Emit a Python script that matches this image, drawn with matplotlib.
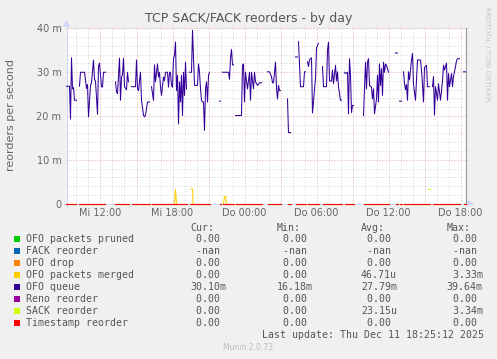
import numpy as np
import matplotlib
matplotlib.use("Agg")
import matplotlib.pyplot as plt
from matplotlib.patches import Rectangle, Polygon
from matplotlib.lines import Line2D
from matplotlib.transforms import Affine2D

W, H = 497, 359

# ---------------- data ----------------
# OFO queue, values in milli-reorders/s, time in minutes since Wed 00:00 (None = no data)
queue_minutes = [
    550, 565, 570, 575, 580, 585, 590, 600, None,
    615, 620, 630, 640, 650, 655, 660, 670, 675, 685, 690, 695, 705, 710, 715, 725, 730, 735, 745, None,
    795, 800, 805, 815, 820, 825, 830, 835, 840, 850, 855, 860, None,
    875, 895, 900, 905, 910, 920, 925, 935, 940, 945, 955, 965, None,
    975, 985, 990, 995, 1005, 1010, 1015, 1020, 1025, 1035, 1040, 1045, 1055, 1060, 1065, 1070,
    1075, 1080, 1085, 1090, 1095, 1100, 1105, 1110, 1115, 1120, 1125, 1130, 1135, 1140, 1145, 1150, None,
    1165, 1175, 1180, 1185, 1190, 1205, 1210, 1215, 1220, 1225, 1230, 1235, 1240, 1245, 1250, 1255, 1260, 1265, None,
    1315, 1320, None,
    1330, 1360, 1365, 1370, 1375, 1380, 1385, None,
    1395, 1425, 1430, 1435, 1440, 1445, 1455, 1465, 1470, 1475, 1485, 1490, 1495, 1505, 1515, 1525, None,
    1555, 1565, 1575, 1580, 1585, 1595, 1600, 1605, 1610, 1615, 1620, None,
    1655, 1660, 1670, None,
    1695, 1705, None,
    1710, 1720, 1735, 1740, 1745, None,
    1755, 1760, 1765, 1775, 1780, 1795, 1800, 1805, 1810, None,
    1830, 1835, 1850, 1855, 1860, 1865, 1875, 1880, 1885, 1895, 1900, 1905, 1910, 1920, 1925, None,
    1940, 1945, 1955, 1960, 1965, 1970, 1975, 1980, 1985, None,
    2035, 2045, 2050, 2055, 2060, 2065, 2075, 2080, 2085, 2090, 2100, 2105, 2110, 2115, 2120, 2125,
    2130, 2135, 2140, 2145, 2150, 2160, None,
    2195, 2205, None,
    2215, 2225, None,
    2235, 2240, 2245, 2250, 2255, 2260, 2265, 2275, 2280, 2285, 2295, 2300, 2305, 2320, 2325, 2330,
    2335, 2340, 2350, 2355, 2365, None,
    2380, 2385, 2390, 2395, 2405, 2410, 2420, 2430, 2435, 2440, 2450, 2455, 2460, 2465, 2475, 2480,
    2485, 2495, 2500, 2505, 2515, None,
    2535, 2545,
]
queue_values = [
    26.8, 26.8, 19.3, 33.3, 26.2, 26.5, 23.6, 23.6, None,
    26.8, 30.0, 30.0, 30.0, 26.3, 27.2, 19.8, 27.0, 27.6, 32.8, 28.4, 28.0, 20.4, 31.3, 32.1, 26.7, 26.6, 30.0, 30.0, None,
    27.8, 25.5, 25.1, 33.2, 23.6, 28.9, 29.5, 33.2, 26.7, 26.0, 30.0, 27.8, None,
    26.7, 26.7, 32.8, 26.3, 25.8, 30.0, 23.6, 20.2, 19.8, 20.2, 23.2, 23.2, None,
    26.7, 23.6, 31.7, 27.8, 31.9, 28.9, 30.0, 26.6, 24.7, 28.9, 28.1, 30.0, 30.0, 26.6, 30.0, 30.0,
    27.0, 26.6, 33.1, 33.9, 36.9, 25.8, 29.3, 18.2, 27.8, 23.2, 29.3, 20.1, 30.0, 24.7, 32.3, 26.2, None,
    30.0, 30.0, 39.6, 33.1, 27.0, 27.0, 31.9, 30.0, 26.2, 23.6, 23.2, 23.2, 16.7, 26.2, 27.8, 23.2, 29.3, 30.0, None,
    23.4, 23.4, None,
    30.0, 30.0, 28.4, 33.2, 35.2, 31.7, 31.7, None,
    20.1, 20.1, 31.6, 31.9, 23.2, 30.0, 26.2, 30.0, 23.6, 30.0, 26.2, 30.0, 27.8, 27.0, 27.6, 27.6, None,
    30.1, 30.1, 29.0, 27.6, 27.6, 32.3, 26.5, 23.9, 27.0, 25.8, 25.8, None,
    23.9, 16.2, 16.2, None,
    33.5, 33.5, None,
    37.0, 26.7, 26.7, 30.1, 30.1, None,
    32.4, 31.3, 32.9, 33.3, 20.7, 28.6, 35.5, 36.2, 36.6, None,
    31.3, 26.7, 26.7, 35.1, 36.9, 28.0, 28.0, 30.5, 27.4, 31.6, 28.0, 30.1, 26.7, 23.6, 23.6, None,
    30.0, 29.7, 30.0, 20.5, 33.1, 29.3, 20.8, 22.4, 22.4, None,
    20.1, 32.3, 26.2, 32.3, 33.1, 27.0, 26.6, 23.9, 26.2, 20.5, 23.9, 29.3, 23.2, 31.9, 27.0, 30.8,
    24.7, 32.3, 30.0, 31.9, 31.6, 30.0, None,
    34.4, 34.4, None,
    23.4, 23.4, None,
    30.1, 27.4, 26.0, 27.2, 23.6, 30.1, 28.3, 32.8, 34.3, 27.2, 23.6, 28.3, 32.8, 32.8, 30.5, 27.2,
    23.2, 31.1, 31.6, 26.7, 26.7, None,
    26.7, 29.0, 20.2, 26.7, 23.6, 27.4, 23.6, 28.0, 31.6, 30.5, 32.1, 23.6, 29.7, 26.7, 29.7, 26.7,
    29.0, 31.3, 32.6, 33.1, 33.1, None,
    30.1, 30.1,
]

# OFO packets merged (non-zero episodes)
merged_minutes = [1090, 1095, 1100, None, 1172, 1180, 1183, None, 1335, 1340, 1346, 1350]
merged_values = [0.0, 3.2, 0.0, None, 3.33, 3.33, 0.0, None, 0.0, 1.6, 1.6, 0.0]

# SACK reorder (non-zero episode)
sack_minutes = [2355, 2365]
sack_values = [3.34, 3.34]

series_names = ["OFO packets pruned", "FACK reorder", "OFO drop", "OFO packets merged",
                "OFO queue", "Reno reorder", "SACK reorder", "Timestamp reorder"]
series_colors = ["#00CC00", "#0066B3", "#FF8000", "#FFCC00",
                 "#330099", "#990099", "#CCFF00", "#FF0000"]
cur_vals = ["0.00", "-nan", "0.00", "0.00", "30.10m", "0.00", "0.00", "0.00"]
min_vals = ["0.00", "-nan", "0.00", "0.00", "16.18m", "0.00", "0.00", "0.00"]
avg_vals = ["0.00", "-nan", "0.00", "46.71u", "27.79m", "0.00", "23.15u", "0.00"]
max_vals = ["0.00", "-nan", "0.00", "3.33m", "39.64m", "0.00", "3.34m", "0.00"]

x_tick_minutes = [720, 1080, 1440, 1800, 2160, 2520]
x_tick_labels = ["Mi 12:00", "Mi 18:00", "Do 00:00", "Do 06:00", "Do 12:00", "Do 18:00"]
y_ticks = [0, 10, 20, 30, 40]
y_tick_labels = ["0", "10 m", "20 m", "30 m", "40 m"]

title = "TCP SACK/FACK reorders - by day"
y_label = "reorders per second"
last_update = "Last update: Thu Dec 11 18:25:12 2025"

# ---------------- figure ----------------
def arr(a):
    return np.array([np.nan if v is None else v for v in a], dtype=float)

qm, qv = arr(queue_minutes), arr(queue_values)
zero_series = np.where(np.isnan(qv), np.nan, 0.0)

FONT = "#666666"
fig = plt.figure(figsize=(W / 100, H / 100), dpi=100, facecolor="#F0F0F0")
pxT = Affine2D().scale(1, -1).translate(0, H)

L, R, T, B = 66.5, 466.5, 28.5, 203.5
# white canvas behind everything
fig.add_artist(Rectangle((L, T), R - L, B - T, facecolor="white", edgecolor="none",
                         transform=pxT, zorder=-3))
ax = fig.add_axes([L / W, 1 - B / H, (R - L) / W, (B - T) / H])
ax.patch.set_visible(False)
xmin, xmax = 550, 2550
ax.set_xlim(xmin, xmax)
ax.set_ylim(0, 40)
for s in ax.spines.values():
    s.set_visible(False)

# grid
dot = (0, (1, 2))
for m in range(600, xmax + 1, 60):
    major = (m % 180 == 0)
    ax.axvline(m, color="#E3A8A8" if major else "#D0D0D0", lw=0.72, ls=dot, zorder=1)
for v in range(2, 41, 2):
    major = (v % 10 == 0)
    ax.axhline(v, color="#E3A8A8" if major else "#D0D0D0", lw=0.72, ls=dot, zorder=1, clip_on=False)

ax.set_xticks(x_tick_minutes)
ax.set_xticklabels(x_tick_labels)
ax.set_yticks(y_ticks)
ax.set_yticklabels(y_tick_labels)
ax.tick_params(axis="both", length=0, labelsize=7, labelcolor=FONT)
ax.tick_params(axis="x", pad=3.2)
ax.tick_params(axis="y", pad=3.6)

# axes lines + arrows (rrdtool style), drawn beneath the data
AX = "#CFD6F8"
fig.add_artist(Line2D([L, L], [B + 3, T - 3], color=AX, lw=0.72, transform=pxT, zorder=-2))
fig.add_artist(Line2D([L - 3, R + 3], [B, B], color=AX, lw=0.72, transform=pxT, zorder=-2))
fig.add_artist(Polygon([[L - 3, T - 2], [L + 3, T - 2], [L, T - 8]], closed=True,
                       facecolor=AX, edgecolor=AX, lw=0.5, transform=pxT, zorder=-2))
fig.add_artist(Polygon([[R + 1, B - 3], [R + 1, B + 3], [R + 7, B]], closed=True,
                       facecolor=AX, edgecolor=AX, lw=0.5, transform=pxT, zorder=-2))
ax.axvline(2547, color="#9A9A9A", lw=0.9, zorder=2)

# series (draw order = legend order)
kw = dict(lw=0.75, clip_on=False, solid_joinstyle="round")
ax.plot(qm, zero_series, color=series_colors[0], zorder=3, **kw)
ax.plot(qm, zero_series, color=series_colors[2], zorder=3, **kw)
ax.plot(qm, zero_series, color=series_colors[3], zorder=3, **kw)
ax.plot(arr(merged_minutes), arr(merged_values), color=series_colors[3], zorder=3, **kw)
ax.plot(qm, qv, color=series_colors[4], zorder=4, **kw)
ax.plot(qm, zero_series, color=series_colors[5], zorder=5, **kw)
ax.plot(qm, zero_series, color=series_colors[6], zorder=5, **kw)
ax.plot(arr(sack_minutes), arr(sack_values), color=series_colors[6], zorder=5, **kw)
ax.plot(qm, zero_series, color=series_colors[7], zorder=6, **kw)

# texts
fig.text(248.3, 18.5, title, transform=pxT, ha="center", va="center", fontsize=9, color="#555555")
fig.text(11, 115, y_label, transform=pxT, ha="center", va="center", rotation=90,
         fontsize=8, color=FONT)
fig.text(487.5, 53.5, "RRDTOOL / TOBI OETIKER", transform=pxT, ha="center", va="center",
         rotation=270, fontsize=5.4, color="#C8C8C8")

MONO = dict(family="DejaVu Sans Mono", fontsize=7.15, color="#555555", va="center", transform=pxT)

def fmt(s):
    if s[-1] in "mu":
        return f"{s[:-1]:>5}{s[-1]}"
    return f"{s:>5} "

col_x = [190, 276.7, 361, 446.7]
headers = ["Cur:", "Min:", "Avg:", "Max:"]
for cx, h in zip(col_x, headers):
    fig.text(cx, 228, h, **MONO)
for i, name in enumerate(series_names):
    y = 239.3 + 12 * i
    fig.add_artist(Rectangle((14, y - 3), 6, 6, facecolor=series_colors[i], edgecolor="none",
                             transform=pxT))
    fig.text(26, y, name, **MONO)
    for cx, col in zip(col_x, [cur_vals, min_vals, avg_vals, max_vals]):
        fig.text(cx, y, fmt(col[i]), **MONO)

fig.text(261.7, 335.3, last_update, **MONO)
fig.text(248, 347.5, "Munin 2.0.73", transform=pxT, ha="center", va="center",
         fontsize=5.5, color="#BDBDBD")

fig.savefig("out.png", dpi=100, facecolor=fig.get_facecolor())
